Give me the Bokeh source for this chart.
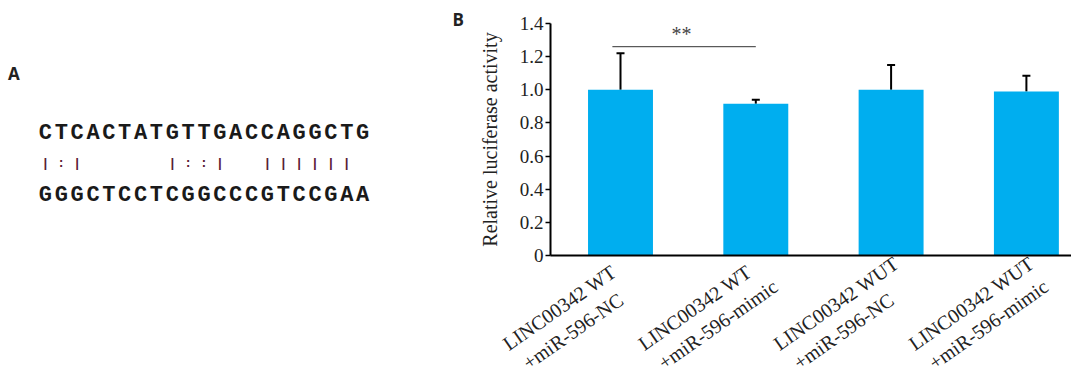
from bokeh.plotting import figure
from bokeh.models import (Range1d, FixedTicker, NumeralTickFormatter, ColumnDataSource,
                          Whisker, TeeHead, LinearAxis)
from bokeh.core.properties import value
from bokeh.embed import file_html
from bokeh.resources import INLINE
import math

# ---------------- data ----------------
seq_top = "CTCACTATGTTGACCAGGCTG"
seq_mid = "|:|     |::|  ||||||"
seq_bot = "GGGCTCCTCGGCCCGTCCGAA"

categories = ["LINC00342 WT\n+miR-596-NC",
              "LINC00342 WT\n+miR-596-mimic",
              "LINC00342 WUT\n+miR-596-NC",
              "LINC00342 WUT\n+miR-596-mimic"]
means = [1.00, 0.915, 1.00, 0.99]
errors = [0.22, 0.025, 0.15, 0.095]
y_ticks = [0, 0.2, 0.4, 0.6, 0.8, 1.0, 1.2, 1.4]
sig_text = "**"
sig_pair = [0, 1]

SERIF = "Liberation Serif"
BAR = "#00aeef"
W, H = 1071, 373

# pixel mapping of the bar panel: centre of bar 0 at x=620 px, spacing 135.3 px;
# value 0 at y=255 px, 1.4 at y=23 px
XS, X0 = 135.3, 620.0
YS, Y0 = 232.0 / 1.4, 255.0
x_axis_start = (550 - X0) / XS

p = figure(width=W, height=H, output_backend="svg", toolbar_location=None,
           x_range=Range1d(-X0 / XS, (W - X0) / XS),
           y_range=Range1d(-(H - Y0) / YS, Y0 / YS),
           x_axis_location=None, y_axis_location=None,
           min_border=0, outline_line_color=None)
p.grid.visible = False
p.extra_x_ranges = {"px": Range1d(0, W)}
p.extra_y_ranges = {"py": Range1d(H, 0)}

# ---------------- panel A ----------------
cw = 15.86
x0 = 44.9
for s, yc, size, color in [(seq_top, 132.5, "22px", "#1a1a1a"),
                           (seq_bot, 194.5, "22px", "#1a1a1a"),
                           (seq_mid, 162.5, "13px", "#5a2035")]:
    xs = [x0 + cw * i for i, ch in enumerate(s) if ch != " "]
    chars = [ch for ch in s if ch != " "]
    p.text(x=xs, y=[yc] * len(xs), text=chars, text_font=value("Liberation Mono"),
           text_font_size=size, text_font_style="bold", text_color=color,
           text_align="center", text_baseline="middle", x_range_name="px", y_range_name="py")

p.text(x=[7.5], y=[72.5], text=["A"], text_font=value("Open Sans"), text_font_size="17px",
       text_font_style="bold", text_color="#222222", text_baseline="middle",
       x_range_name="px", y_range_name="py")
p.text(x=[452], y=[19], text=["B"], text_font=value("Open Sans"), text_font_size="17px",
       text_font_style="bold", text_color="#222222", text_baseline="middle",
       x_range_name="px", y_range_name="py")

# ---------------- panel B ----------------
xs_idx = list(range(len(categories)))
line1 = [c.split("\n")[0] for c in categories]
line2 = [c.split("\n")[1] for c in categories]
src = ColumnDataSource(dict(x=xs_idx, top=means,
                            upper=[m + e for m, e in zip(means, errors)],
                            l1=line1, l2=line2,
                            y1=[-90.1 / YS] * len(categories),
                            y2=[-109.1 / YS] * len(categories)))
p.vbar(x="x", top="top", bottom=0, width=0.48, source=src, fill_color=BAR, line_color=None)
p.add_layout(Whisker(base="x", lower="top", upper="upper", source=src, dimension="height",
                     line_color="black", line_width=2, lower_head=None,
                     upper_head=TeeHead(size=8, line_color="black", line_width=2)))

# significance bracket
p.segment(x0=[sig_pair[0] - 0.06], y0=[1.26], x1=[sig_pair[1]], y1=[1.26],
          line_color="#333333", line_width=1)
p.text(x=[0.45], y=[1.335], text=[sig_text], text_font=value(SERIF), text_font_size="20px",
       text_color="#444444", text_align="center", text_baseline="middle")

# y axis
ya = LinearAxis(fixed_location=x_axis_start, bounds=(0, 1.4))
ya.ticker = FixedTicker(ticks=y_ticks)
ya.formatter = NumeralTickFormatter(format="0.0")
ya.major_label_overrides = {0: "0"}
ya.minor_tick_line_color = None
ya.major_tick_out = 5
ya.major_tick_in = 0
ya.major_tick_line_width = 1.5
ya.axis_line_width = 2
ya.major_label_standoff = 2
ya.major_label_text_font = SERIF
ya.major_label_text_font_size = "19px"
ya.major_label_text_color = "#222222"
ya.axis_label = "Relative luciferase activity"
ya.axis_label_text_font = SERIF
ya.axis_label_text_font_size = "20px"
ya.axis_label_text_font_style = "normal"
ya.axis_label_text_color = "#222222"
ya.axis_label_standoff = 16
p.add_layout(ya, "left")

# x axis (line only)
xa = LinearAxis(fixed_location=0, bounds=(x_axis_start, (W - X0) / XS))
xa.ticker = FixedTicker(ticks=[])
xa.axis_line_width = 2
xa.minor_tick_line_color = None
xa.major_tick_line_color = None
p.add_layout(xa, "below")

# category labels under the axis (two rotated lines each)
ang = math.radians(35)
p.text(x="x", y="y1", text="l1", source=src, angle=ang, x_offset=-115.4,
       text_align="left", text_baseline="middle",
       text_font=value(SERIF), text_font_size="20px", text_color="#222222")
p.text(x="x", y="y2", text="l2", source=src, angle=ang, x_offset=-95.4,
       text_align="left", text_baseline="middle",
       text_font=value(SERIF), text_font_size="20px", text_color="#222222")

open("out.html", "w").write(file_html(p, INLINE))
